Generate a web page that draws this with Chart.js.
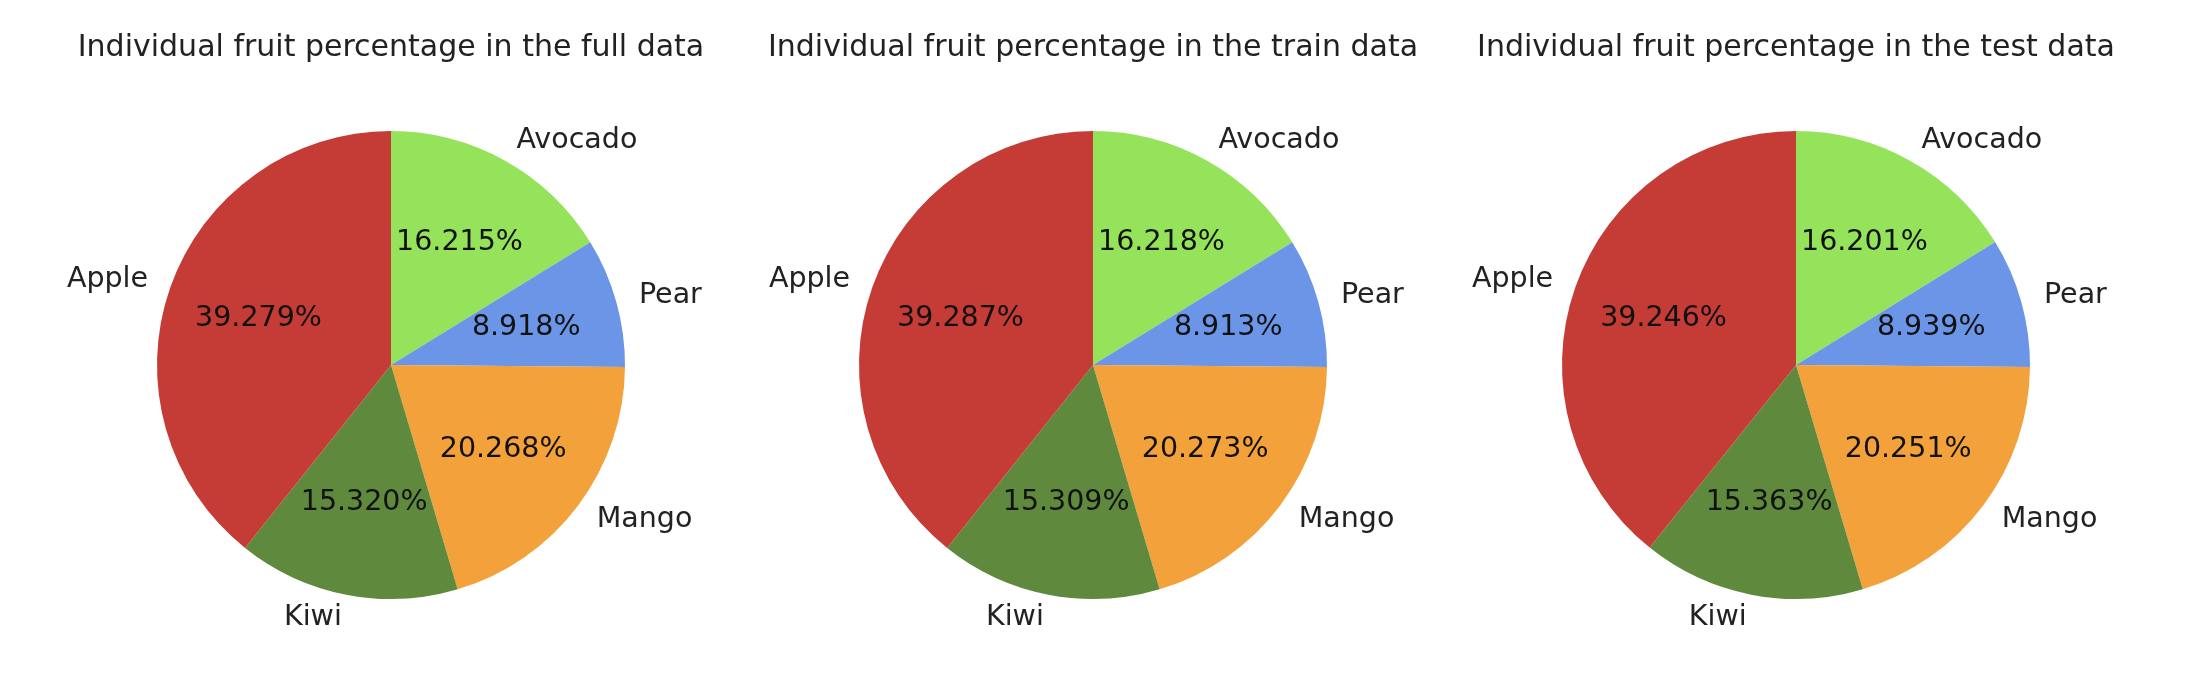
<!DOCTYPE html>
<html>
<head>
<meta charset="utf-8">
<script src="https://cdn.jsdelivr.net/npm/chart.js@4"></script>
<style>
  body { margin: 0; background: #fff; }
  .box { position: absolute; top: 0; width: 702px; height: 692px; }
</style>
</head>
<body>
<div class="box" style="left:40px"><canvas id="pie1" width="702" height="692"></canvas></div>
<div class="box" style="left:742px"><canvas id="pie2" width="702" height="692"></canvas></div>
<div class="box" style="left:1445px"><canvas id="pie3" width="702" height="692"></canvas></div>
<script>
// slices listed clockwise from 12 o'clock
let fruits = ["Avocado", "Pear", "Mango", "Kiwi", "Apple"];
let colors = ["#94e35a", "#6b96e8", "#f3a13a", "#5f893c", "#c43c35"];

const fullPct = [16.215, 8.918, 20.268, 15.32, 39.279];
const trainPct = [16.218, 8.913, 20.273, 15.309, 39.287];
const testPct = [16.201, 8.939, 20.251, 15.363, 39.246];

const titles = [
  "Individual fruit percentage in the full data",
  "Individual fruit percentage in the train data",
  "Individual fruit percentage in the test data",
];

const fontFamily = "'DejaVu Sans', sans-serif";

// names outside the pie (1.1 r), percentages inside (0.6 r)
const sliceLabels = {
  id: "sliceLabels",
  afterDatasetsDraw(chart) {
    const ctx = chart.ctx;
    const values = chart.data.datasets[0].data;
    chart.getDatasetMeta(0).data.forEach((arc, i) => {
      const p = arc.getProps(["x", "y", "startAngle", "endAngle", "outerRadius"], true);
      const mid = (p.startAngle + p.endAngle) / 2;
      const cos = Math.cos(mid);
      const sin = Math.sin(mid);
      ctx.save();
      ctx.font = "28.5px " + fontFamily;
      ctx.fillStyle = "#222";
      ctx.textBaseline = "middle";
      ctx.textAlign = cos >= 0 ? "left" : "right";
      ctx.fillText(chart.data.labels[i], p.x + 1.1 * p.outerRadius * cos, p.y + 1.1 * p.outerRadius * sin);
      ctx.textAlign = "center";
      ctx.fillStyle = "#111";
      ctx.fillText(values[i].toFixed(3) + "%", p.x + 0.6 * p.outerRadius * cos, p.y + 0.6 * p.outerRadius * sin);
      ctx.restore();
    });
  },
};

function makePie(id, title, values) {
  new Chart(id, {
    type: "pie",
    data: {
      labels: fruits,
      datasets: [
        {
          backgroundColor: colors,
          borderWidth: 0,
          data: values,
        },
      ],
    },
    options: {
      responsive: false,
      animation: false,
      layout: { padding: { top: 0, bottom: 93, left: 0, right: 0 } },
      plugins: {
        legend: { display: false },
        tooltip: { enabled: false },
        title: {
          display: true,
          text: title,
          color: "#222",
          font: { family: fontFamily, size: 30, weight: "normal", lineHeight: 1.2 },
          padding: { top: 30, bottom: 65 },
        },
      },
    },
    plugins: [sliceLabels],
  });
}

makePie("pie1", titles[0], fullPct);
makePie("pie2", titles[1], trainPct);
makePie("pie3", titles[2], testPct);
</script>
</body>
</html>
